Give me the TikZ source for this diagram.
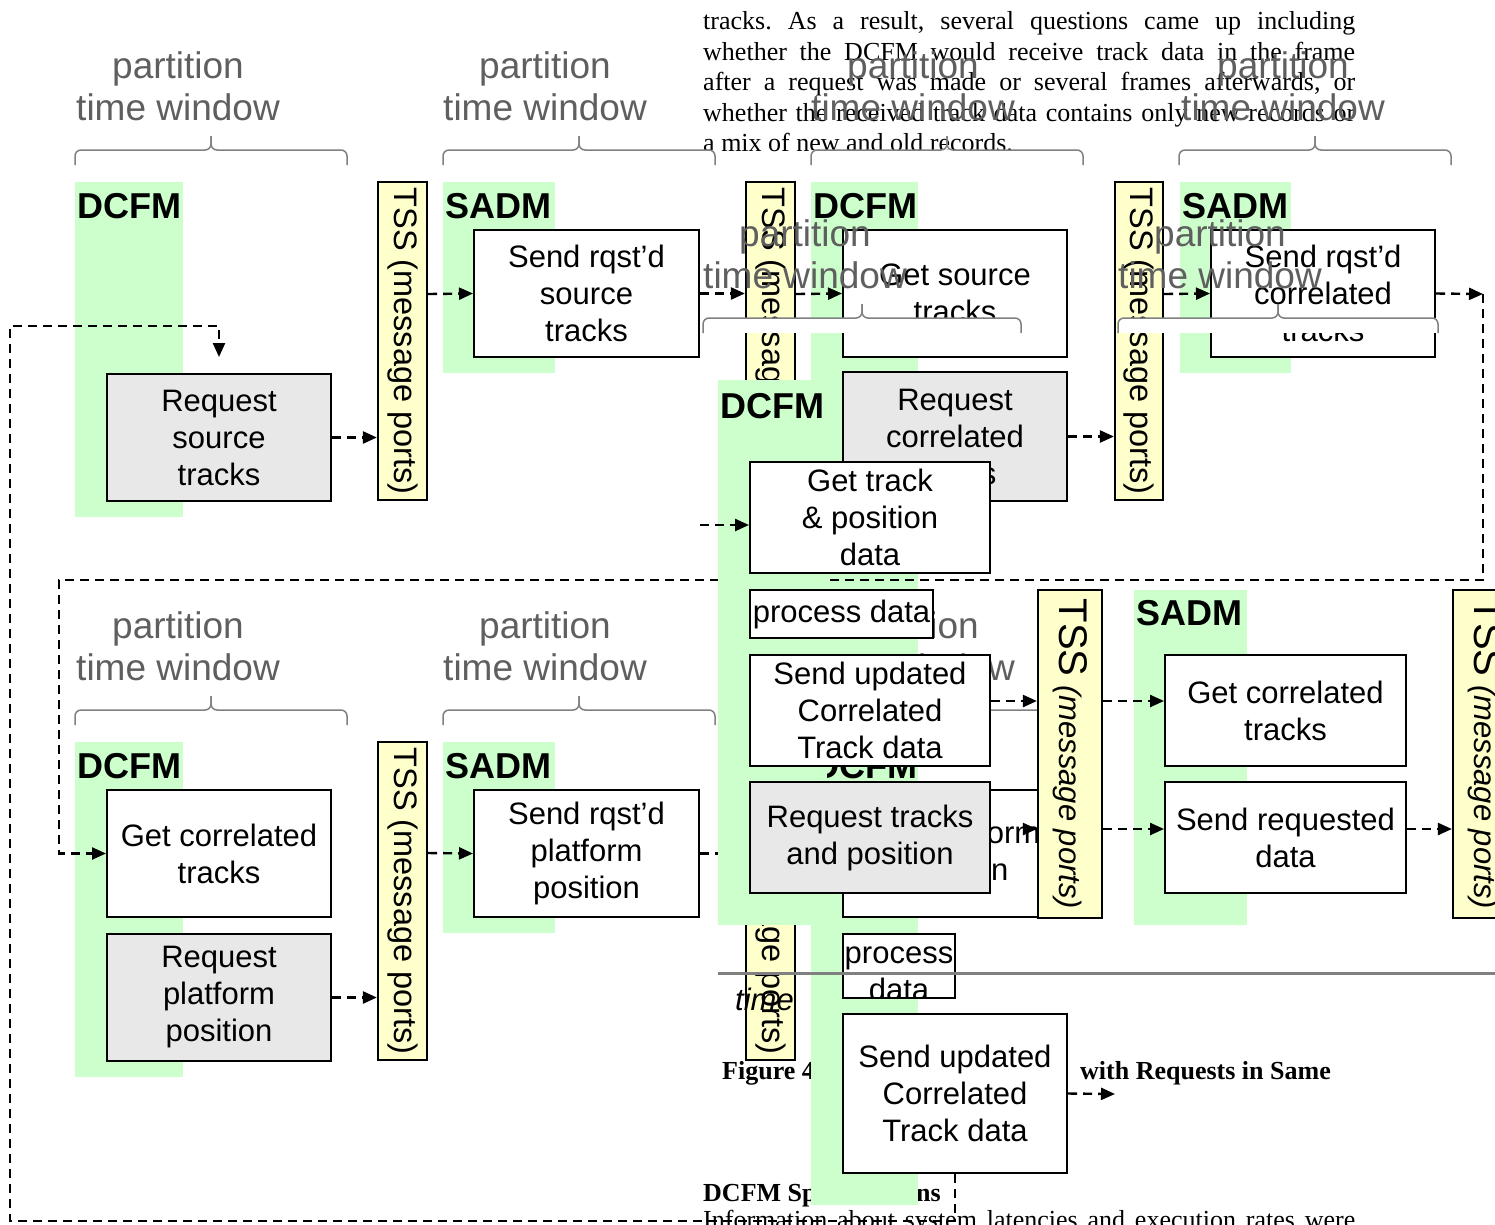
\documentclass[tikz,border=0pt]{standalone}
\usepackage{fontspec}
\setmainfont{Liberation Sans}
\newfontfamily\tms{Liberation Serif}
\usetikzlibrary{arrows.meta}
\frenchspacing

\definecolor{panelgreen}{RGB}{204,255,204}
\definecolor{portyellow}{RGB}{255,255,204}
\definecolor{taskgrey}{RGB}{232,232,232}
\definecolor{labelgrey}{RGB}{95,95,95}
\definecolor{bracegrey}{RGB}{128,128,128}

\tikzset{
  task/.style={draw=black, line width=2pt, fill=white, inner sep=0pt, align=center,
    font=\fontsize{31}{37}\selectfont},
  reqtask/.style={task, fill=taskgrey},
  port/.style={draw=black, line width=2.2pt, fill=portyellow, inner sep=0pt},
  porttext/.style={rotate=-90, inner sep=0pt, font=\fontsize{32.5}{37}\selectfont},
  modname/.style={anchor=base west, inner sep=0pt, font=\fontsize{36}{40}\bfseries\selectfont},
  flow/.style={line width=2.4pt, dash pattern=on 9pt off 6pt, -{Triangle[length=14pt,width=12pt]}},
  winlabel/.style={anchor=base, inner sep=0pt, text=labelgrey, font=\fontsize{37}{42}\selectfont},
  bracestroke/.style={draw=bracegrey, line width=1.5pt, rounded corners=6pt},
  bodytext/.style={anchor=base west, inner sep=0pt, font=\tms\fontsize{26}{30}\selectfont},
  bodyhead/.style={bodytext, font=\tms\bfseries\fontsize{26}{30}\selectfont},
}

% box given by its corners: style, name, x1, y1, x2, y2, text
\newcommand\taskbox[7]{%
  \node[#1, minimum width={(#5)-(#3)}, minimum height={(#6)-(#4)}]
    (#2) at ({((#3)+(#5))/2},{((#4)+(#6))/2}) {#7};}
% message-port bar: name, x1, y1, x2, y2
\newcommand\portbar[5]{%
  \node[port, minimum width={(#4)-(#2)}, minimum height={(#5)-(#3)}]
    (#1) at ({((#2)+(#4))/2},{((#3)+(#5))/2}) {};}
% two-line window label: name, centre x, first baseline
\newcommand\winlbl[3]{%
  \node[winlabel] (#1p) at (#2,#3) {partition};
  \node[winlabel] (#1t) at (#2,#3+42) {time window};}
% curly bracket with white underlay: left x, line y, right x
\newcommand\winbrace[3]{%
  \fill[white] (#1,#2) rectangle (#3,#2+15);
  \draw[bracestroke] (#1,#2+15) -- (#1,#2) -- ({((#1)+(#3))/2},#2) -- ({((#1)+(#3))/2},#2-14);
  \draw[bracestroke] (#3,#2+15) -- (#3,#2) -- ({((#1)+(#3))/2},#2) -- ({((#1)+(#3))/2},#2-14);}

\begin{document}
\begin{tikzpicture}[x=1pt,y=-1pt]
\useasboundingbox (0,0) rectangle (1495,1224);
\clip (0,0) rectangle (1495,1224);

% ---------- running text of the page ----------
\node[bodytext] (para1) at (703,29) {\makebox[652pt][s]{tracks. As a result, several questions came up including}};
\node[bodytext] (para2) at (703,60) {\makebox[652pt][s]{whether the DCFM would receive track data in the frame}};
\node[bodytext] (para3) at (703,90) {\makebox[652pt][s]{after a request was made or several frames afterwards, or}};
\node[bodytext] (para4) at (703,121) {\makebox[652pt][s]{whether the received track data contains only new records or}};
\node[bodytext] (para5) at (703,151) {a mix of new and old records.};
\node[bodyhead] (capA) at (722,1079) {Figure 4};
\node[bodyhead] (capB) at (1080,1079) {with Requests in Same};
\node[bodyhead] (head) at (703,1201) {DCFM Specifications};
\node[bodytext] (para6) at (703,1228) {\makebox[652pt][s]{Information about system latencies and execution rates were}};

% ---------- partition windows ----------
\winlbl{wA}{178}{78}   \winbrace{75}{150}{347}
\winlbl{wB}{545}{78}   \winbrace{443}{150}{715}
\winlbl{wC}{913}{78}   \winbrace{811}{150}{1083}
\winlbl{wD}{1283}{78}  \winbrace{1179}{150}{1451}
\winlbl{wE}{178}{638}  \winbrace{75}{710}{347}
\winlbl{wF}{545}{638}  \winbrace{443}{710}{715}
\winlbl{wG}{913}{638}  \winbrace{811}{710}{1083}

% ---------- partition panels ----------
\fill[panelgreen] (75,182) rectangle (183,517);
\fill[panelgreen] (443,182) rectangle (555,373);
\fill[panelgreen] (811,182) rectangle (918,1205);
\fill[panelgreen] (1180,182) rectangle (1291,373);
\fill[panelgreen] (75,742) rectangle (183,1077);
\fill[panelgreen] (443,742) rectangle (555,933);

\node[modname] (mA) at (77,218) {DCFM};
\node[modname] (mB) at (445,218) {SADM};
\node[modname] (mC) at (813,218) {DCFM};
\node[modname] (mD) at (1182,218) {SADM};
\node[modname] (mE) at (77,778) {DCFM};
\node[modname] (mF) at (445,778) {SADM};
\node[modname] (mG) at (813,778) {DCFM};

% ---------- tasks, first row ----------
\taskbox{reqtask}{rst}{107}{374}{331}{501}{Request\\source\\tracks}
\portbar{t1}{378}{182}{427}{500}
\taskbox{task}{srst}{474}{230}{699}{357}{Send rqst’d\\source\\tracks}
\portbar{t2}{746}{182}{795}{500}
\taskbox{task}{gst}{843}{230}{1067}{357}{Get source\\tracks}
\taskbox{reqtask}{rct}{843}{372}{1067}{501}{Request\\correlated\\tracks}
\portbar{t3}{1115}{182}{1163}{500}
\taskbox{task}{srct}{1211}{230}{1435}{357}{Send rqst’d\\correlated\\tracks}
\foreach \p in {t1,t2,t3} \node[porttext] (\p txt) at (\p.center) {TSS (message ports)};

% ---------- tasks, second row ----------
\taskbox{task}{gct}{107}{790}{331}{917}{Get correlated\\tracks}
\taskbox{reqtask}{rpp}{107}{934}{331}{1061}{Request\\platform\\position}
\portbar{t4}{378}{742}{427}{1060}
\taskbox{task}{srpp}{474}{790}{699}{917}{Send rqst’d\\platform\\position}
\portbar{t5}{746}{742}{795}{1060}
\foreach \p in {t4,t5} \node[porttext] (\p txt) at (\p.center) {TSS (message ports)};
\taskbox{task}{gpp}{843}{790}{1067}{917}{Get platform\\position}
\taskbox{task}{pd2}{843}{934}{955}{998}{}
\begin{scope}
  \clip (843,934) rectangle (955,998);
  \node[inner sep=0pt, align=center, font=\fontsize{31}{37}\selectfont] (pd2txt) at (899,974) {process\\data};
\end{scope}
\taskbox{task}{sucd}{843}{1014}{1067}{1173}{Send updated\\Correlated\\Track data}

% ---------- message flow ----------
\coordinate (y294) at (0,294);
\coordinate (y853) at (0,853);
\coordinate (cR) at (1483,294);
\coordinate (cA) at (1483,580);
\coordinate (cB) at (59,580);
\coordinate (cE) at (10,1221);
\coordinate (cG) at (10,326);
\coordinate (cF) at (219,357);
\coordinate (cS) at (1115,1094);

\draw[flow] (rst.east) -- (rst.east -| t1.west);
\draw[flow] (t1.east |- y294) -- (srst.west);
\draw[flow] (srst.east) -- (srst.east -| t2.west);
\draw[flow] (t2.east |- y294) -- (gst.west);
\draw[flow] (rct.east) -- (rct.east -| t3.west);
\draw[flow] (t3.east |- y294) -- (srct.west);
\draw[flow] (srct.east) -- (cR);
\draw[flow] (cR) -- (cA) -- (cB) -- (cB |- gct.west) -- (gct.west);
\draw[flow] (sucd.south) -- (sucd.south |- cE) -- (cE) -- (cG) -- (cG -| cF) -- (cF);
\draw[flow] (rpp.east) -- (rpp.east -| t4.west);
\draw[flow] (t4.east |- y853) -- (srpp.west);
\draw[flow] (srpp.east) -- (srpp.east -| t5.west);
\draw[flow] (t5.east |- y853) -- (gpp.west);
\draw[flow] (sucd.east) -- (cS);

% ---------- second set of windows ----------
\winlbl{wH}{805}{246}   \winbrace{703}{318}{1021}
\winlbl{wI}{1220}{246}  \winbrace{1118}{318}{1438}

% ---------- DCFM / SADM exchange with combined request ----------
\fill[panelgreen] (718,380) rectangle (827,925);
\fill[panelgreen] (1134,590) rectangle (1247,925);
\node[modname] (mH) at (720,418) {DCFM};
\node[modname] (mI) at (1136,625) {SADM};

\taskbox{task}{gtpd}{750}{462}{990}{573}{Get track\\\& position\\data}
\taskbox{task}{pdB}{750}{590}{933}{638}{process data}
\taskbox{task}{sucdB}{750}{655}{990}{766}{Send updated\\Correlated\\Track data}
\taskbox{reqtask}{rtap}{750}{782}{990}{893}{Request tracks\\and position}
\portbar{tB1}{1038}{590}{1102}{918}
\taskbox{task}{gctB}{1165}{655}{1406}{766}{Get correlated\\tracks}
\taskbox{task}{srdB}{1165}{782}{1406}{893}{Send requested\\data}
\portbar{tB2}{1453}{590}{1517}{918}
\foreach \p in {tB1,tB2}
  \node[porttext, font=\fontsize{31}{37}\selectfont] (\p txt) at (\p.center)
    {{\fontsize{40}{44}\selectfont TSS} \textit{(message ports)}};

\coordinate (inB) at (700,525);
\coordinate (y701) at (0,701);
\coordinate (y829) at (0,829);
\draw[flow] (inB) -- (inB -| gtpd.west);
\draw[flow] (sucdB.east |- y701) -- (tB1.west |- y701);
\draw[flow, shorten <=34pt] (rtap.east |- y829) -- (tB1.west |- y829);
\draw[flow] (tB1.east |- y701) -- (gctB.west |- y701);
\draw[flow] (tB1.east |- y829) -- (srdB.west |- y829);
\draw[flow] (srdB.east |- y829) -- (tB2.west |- y829);

% time axis
\draw[bracegrey, line width=3pt] (718,973) -- (1495,973);
\node[anchor=base west, inner sep=0pt, font=\fontsize{31}{37}\itshape\selectfont] (timelbl) at (735,1010) {time};

\end{tikzpicture}
\end{document}
